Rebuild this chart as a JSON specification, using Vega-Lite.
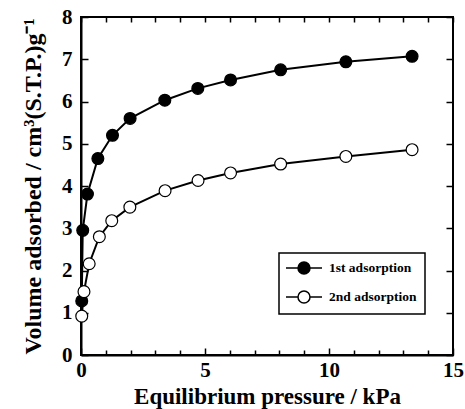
{
  "$schema": "https://vega.github.io/schema/vega-lite/v6.json",
  "width": 372,
  "height": 338,
  "autosize": {"type": "none"},
  "padding": {"left": 81, "top": 17, "right": 12, "bottom": 54},
  "background": "white",
  "config": {
    "view": {"stroke": "black", "strokeWidth": 2},
    "font": "Liberation Serif",
    "axis": {
      "labelFont": "Liberation Serif", "labelFontWeight": "bold", "labelFontSize": 21, "labelColor": "black",
      "titleFont": "Liberation Serif", "titleFontWeight": "bold", "titleFontSize": 23, "titleColor": "black",
      "domainColor": "black", "domainWidth": 2, "tickColor": "black", "tickWidth": 1.5,
      "grid": false, "labelFlush": false, "labelOverlap": false
    },
    "legend": {
      "orient": "none", "legendX": 198, "legendY": 236,
      "labelFont": "Liberation Serif", "labelFontWeight": "bold", "labelFontSize": 13.5, "labelColor": "black",
      "strokeColor": "black", "strokeWidth": 1.5, "fillColor": "white", "padding": 8, "cornerRadius": 0,
      "symbolType": "M-3,0H-1M1,0H3M-1,0A1,1 0 1,0 1,0A1,1 0 1,0 -1,0Z",
      "symbolSize": 144, "symbolStrokeColor": "black", "symbolStrokeWidth": 1.5,
      "symbolOffset": 10, "labelOffset": 18, "rowPadding": 11
    }
  },
  "data": {
    "values": [
      {"series": "1st adsorption", "p": 0.03, "v": 1.28},
      {"series": "1st adsorption", "p": 0.07, "v": 2.95},
      {"series": "1st adsorption", "p": 0.26, "v": 3.81},
      {"series": "1st adsorption", "p": 0.68, "v": 4.65},
      {"series": "1st adsorption", "p": 1.27, "v": 5.2},
      {"series": "1st adsorption", "p": 1.98, "v": 5.6},
      {"series": "1st adsorption", "p": 3.38, "v": 6.03},
      {"series": "1st adsorption", "p": 4.71, "v": 6.31},
      {"series": "1st adsorption", "p": 6.03, "v": 6.51},
      {"series": "1st adsorption", "p": 8.05, "v": 6.75},
      {"series": "1st adsorption", "p": 10.68, "v": 6.94},
      {"series": "1st adsorption", "p": 13.35, "v": 7.07},
      {"series": "2nd adsorption", "p": 0.03, "v": 0.92},
      {"series": "2nd adsorption", "p": 0.12, "v": 1.5},
      {"series": "2nd adsorption", "p": 0.33, "v": 2.16},
      {"series": "2nd adsorption", "p": 0.74, "v": 2.8},
      {"series": "2nd adsorption", "p": 1.24, "v": 3.18},
      {"series": "2nd adsorption", "p": 1.97, "v": 3.5},
      {"series": "2nd adsorption", "p": 3.39, "v": 3.89},
      {"series": "2nd adsorption", "p": 4.72, "v": 4.13},
      {"series": "2nd adsorption", "p": 6.03, "v": 4.31},
      {"series": "2nd adsorption", "p": 8.05, "v": 4.52},
      {"series": "2nd adsorption", "p": 10.68, "v": 4.7},
      {"series": "2nd adsorption", "p": 13.35, "v": 4.86}
    ]
  },
  "resolve": {"axis": {"x": "independent", "y": "independent"}},
  "layer": [
    {
      "mark": {"type": "line", "color": "black", "strokeWidth": 2},
      "encoding": {
        "x": {
          "field": "p", "type": "quantitative",
          "scale": {"domain": [0, 15], "nice": false},
          "axis": {
            "orient": "bottom",
            "title": "Equilibrium pressure / kPa",
            "values": [0, 1, 2, 3, 4, 5, 6, 7, 8, 9, 10, 11, 12, 13, 14, 15],
            "labelExpr": "datum.value % 5 === 0 ? datum.label : ''",
            "tickSize": {"condition": {"test": "datum.value % 5 === 0", "value": -7}, "value": -5},
            "labelPadding": 11,
            "titlePadding": 3
          }
        },
        "y": {
          "field": "v", "type": "quantitative",
          "scale": {"domain": [0, 8], "nice": false},
          "axis": {
            "orient": "left",
            "title": "Volume adsorbed / cm³(S.T.P.)g⁻¹",
            "titleFontSize": 24,
            "values": [0, 1, 2, 3, 4, 5, 6, 7, 8],
            "tickSize": -7,
            "labelPadding": 16,
            "titlePadding": 16
          }
        },
        "detail": {"field": "series"}
      }
    },
    {
      "mark": {"type": "point", "shape": "circle", "filled": true, "fillOpacity": 1, "opacity": 1, "stroke": "black", "strokeWidth": 1.2, "size": 140},
      "encoding": {
        "x": {"field": "p", "type": "quantitative", "axis": {"orient": "top", "title": null, "labels": false, "domain": false, "values": [0, 1, 2, 3, 4, 5, 6, 7, 8, 9, 10, 11, 12, 13, 14, 15], "tickSize": -5}},
        "y": {"field": "v", "type": "quantitative", "axis": {"orient": "right", "title": null, "labels": false, "domain": false, "values": [0, 1, 2, 3, 4, 5, 6, 7, 8], "tickSize": -7}},
        "fill": {
          "field": "series", "type": "nominal",
          "scale": {"domain": ["1st adsorption", "2nd adsorption"], "range": ["black", "white"]},
          "legend": {"title": null}
        }
      }
    }
  ]
}
